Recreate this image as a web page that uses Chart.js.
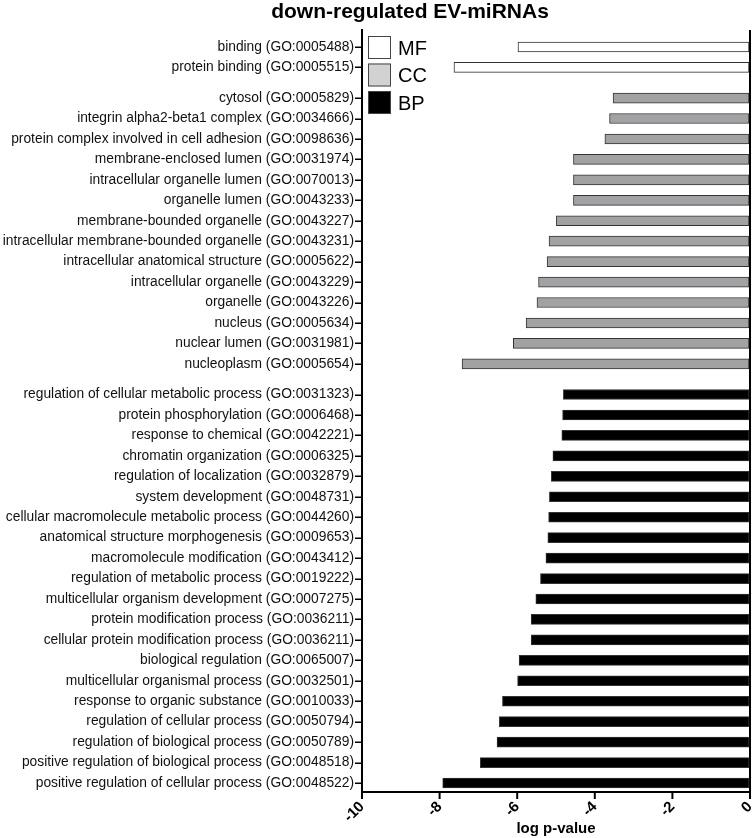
<!DOCTYPE html>
<html>
<head>
<meta charset="utf-8">
<script src="https://cdn.jsdelivr.net/npm/chart.js@4.4.1/dist/chart.umd.min.js"></script>
<style>
    html, body { margin: 0; padding: 0; background: #fff; }
    #wrap { position: relative; width: 754px; height: 838px; }
</style>
</head>
<body>
<div id="wrap"><canvas id="goChart"></canvas></div>
<script>
// GO TERMS (top to bottom)
const mfLabels = ['binding (GO:0005488)', 'protein binding (GO:0005515)'];
const mfValues = [-5.98, -7.63];

const ccLabels = [
    'cytosol (GO:0005829)',
    'integrin alpha2-beta1 complex (GO:0034666)',
    'protein complex involved in cell adhesion (GO:0098636)',
    'membrane-enclosed lumen (GO:0031974)',
    'intracellular organelle lumen (GO:0070013)',
    'organelle lumen (GO:0043233)',
    'membrane-bounded organelle (GO:0043227)',
    'intracellular membrane-bounded organelle (GO:0043231)',
    'intracellular anatomical structure (GO:0005622)',
    'intracellular organelle (GO:0043229)',
    'organelle (GO:0043226)',
    'nucleus (GO:0005634)',
    'nuclear lumen (GO:0031981)',
    'nucleoplasm (GO:0005654)'
];
const ccValues = [-3.53, -3.62, -3.74, -4.55, -4.55, -4.55, -4.99, -5.18, -5.23, -5.45, -5.49, -5.77, -6.10, -7.42];

const bpLabels = [
    'regulation of cellular metabolic process (GO:0031323)',
    'protein phosphorylation (GO:0006468)',
    'response to chemical (GO:0042221)',
    'chromatin organization (GO:0006325)',
    'regulation of localization (GO:0032879)',
    'system development (GO:0048731)',
    'cellular macromolecule metabolic process (GO:0044260)',
    'anatomical structure morphogenesis (GO:0009653)',
    'macromolecule modification (GO:0043412)',
    'regulation of metabolic process (GO:0019222)',
    'multicellular organism development (GO:0007275)',
    'protein modification process (GO:0036211)',
    'cellular protein modification process (GO:0036211)',
    'biological regulation (GO:0065007)',
    'multicellular organismal process (GO:0032501)',
    'response to organic substance (GO:0010033)',
    'regulation of cellular process (GO:0050794)',
    'regulation of biological process (GO:0050789)',
    'positive regulation of biological process (GO:0048518)',
    'positive regulation of cellular process (GO:0048522)'
];
const bpValues = [-4.81, -4.83, -4.85, -5.08, -5.12, -5.17, -5.19, -5.21, -5.26, -5.40, -5.52, -5.64, -5.64, -5.95, -5.99, -6.38, -6.46, -6.52, -6.95, -7.92];

const xTicks = [-10, -8, -6, -4, -2, 0];

// groups: name, labels, values, bar fill, legend fill
const groups = [
    { name: 'MF', labels: mfLabels, values: mfValues, fill: '#ffffff', key: '#ffffff' },
    { name: 'CC', labels: ccLabels, values: ccValues, fill: '#a2a2a5', key: '#d2d2d2' },
    { name: 'BP', labels: bpLabels, values: bpValues, fill: '#000000', key: '#000000' }
];

// build rows with half-row gap between groups
const rows = [];
let pos = 0;
groups.forEach((g, gi) => {
    if (gi > 0) pos += 0.5;
    g.labels.forEach((lab, i) => {
        rows.push({ y: pos, x: g.values[i], label: lab, fill: g.fill });
        pos += 1;
    });
});
const labelAt = new Map(rows.map(r => [r.y, r.label]));

const FONT = '"Liberation Sans", Arial, Helvetica, sans-serif';

const titlePlugin = {
    id: 'topTitle',
    afterDraw(chart) {
        const ctx = chart.ctx;
        ctx.save();
        ctx.font = 'bold 21px ' + FONT;
        ctx.fillStyle = '#000';
        ctx.textAlign = 'center';
        ctx.textBaseline = 'alphabetic';
        ctx.fillText('down-regulated EV-miRNAs', 410, 18);
        ctx.restore();
    }
};

// small outside tick marks on both axes
const tickMarkPlugin = {
    id: 'tickMarks',
    afterDraw(chart) {
        const ctx = chart.ctx;
        const xs = chart.scales.x;
        const ys = chart.scales.y;
        const area = chart.chartArea;
        ctx.save();
        ctx.strokeStyle = '#000';
        ctx.lineWidth = 1.5;
        rows.forEach(r => {
            const py = Math.round(ys.getPixelForValue(r.y)) + 0.25;
            ctx.beginPath();
            ctx.moveTo(area.left - 7, py);
            ctx.lineTo(area.left, py);
            ctx.stroke();
        });
        ctx.lineWidth = 2;
        xTicks.forEach(v => {
            const px = xs.getPixelForValue(v);
            ctx.beginPath();
            ctx.moveTo(px, area.bottom);
            ctx.lineTo(px, area.bottom + 7);
            ctx.stroke();
        });
        ctx.restore();
    }
};

const keyPlugin = {
    id: 'groupKey',
    afterDraw(chart) {
        const ctx = chart.ctx;
        const area = chart.chartArea;
        ctx.save();
        groups.forEach((g, i) => {
            const bx = area.left + 6;
            const by = area.top + 6 + i * 27.5;
            ctx.fillStyle = g.key;
            ctx.fillRect(bx, by, 23, 23);
            ctx.strokeStyle = '#444';
            ctx.lineWidth = 1;
            ctx.strokeRect(bx + 0.5, by + 0.5, 22, 22);
            ctx.fillStyle = '#000';
            ctx.font = '20px ' + FONT;
            ctx.textBaseline = 'middle';
            ctx.textAlign = 'left';
            ctx.fillText(g.name, bx + 30, by + 13);
        });
        ctx.restore();
    }
};

function setupGoChart() {
    const ctx = document.getElementById('goChart').getContext('2d');

    new Chart(ctx, {
        type: 'bar',
        data: {
            datasets: [{
                data: rows.map(r => ({ x: r.x, y: r.y })),
                backgroundColor: rows.map(r => r.fill),
                borderColor: '#333333',
                borderWidth: 1,
                borderSkipped: false,
                barThickness: 10
            }]
        },
        options: {
            indexAxis: 'y',
            responsive: true,
            maintainAspectRatio: false,
            animation: false,
            layout: { padding: { top: 30, right: 4, left: 0, bottom: 0 } },
            plugins: {
                legend: { display: false },
                tooltip: { enabled: false }
            },
            scales: {
                y: {
                    type: 'linear',
                    reverse: true,
                    offset: false,
                    min: -0.83,
                    max: 36.44,
                    afterBuildTicks: (scale) => {
                        scale.ticks = rows.map(r => ({ value: r.y }));
                    },
                    afterFit: (scale) => {
                        scale.width = 362;
                        scale.paddingTop = 0;
                        scale.paddingBottom = 0;
                    },
                    ticks: {
                        autoSkip: false,
                        color: '#111',
                        padding: 0,
                        font: { family: FONT, size: 13.8 },
                        callback: (value) => labelAt.get(value) || ''
                    },
                    grid: { display: false },
                    border: { display: true, color: '#000', width: 2 }
                },
                x: {
                    type: 'linear',
                    min: -10,
                    max: 0,
                    afterBuildTicks: (scale) => {
                        scale.ticks = xTicks.map(v => ({ value: v }));
                    },
                    afterFit: (scale) => {
                        scale.height = 46;
                        scale.paddingLeft = 0;
                        scale.paddingRight = 0;
                    },
                    ticks: {
                        minRotation: 45,
                        maxRotation: 45,
                        color: '#000',
                        padding: 6,
                        font: { family: FONT, size: 15, weight: 'bold' }
                    },
                    grid: {
                        drawOnChartArea: true,
                        drawTicks: false,
                        color: (c) => (c.tick && c.tick.value === 0 ? '#000' : 'rgba(0,0,0,0)'),
                        lineWidth: 2
                    },
                    border: { display: true, color: '#000', width: 2 },
                    title: {
                        display: true,
                        text: 'log p-value',
                        color: '#000',
                        padding: { top: -8, bottom: 0 },
                        font: { family: FONT, size: 15, weight: 'bold' }
                    }
                }
            }
        },
        plugins: [titlePlugin, keyPlugin, tickMarkPlugin]
    });
}

document.addEventListener('DOMContentLoaded', () => {
    setupGoChart();
});
</script>
</body>
</html>
